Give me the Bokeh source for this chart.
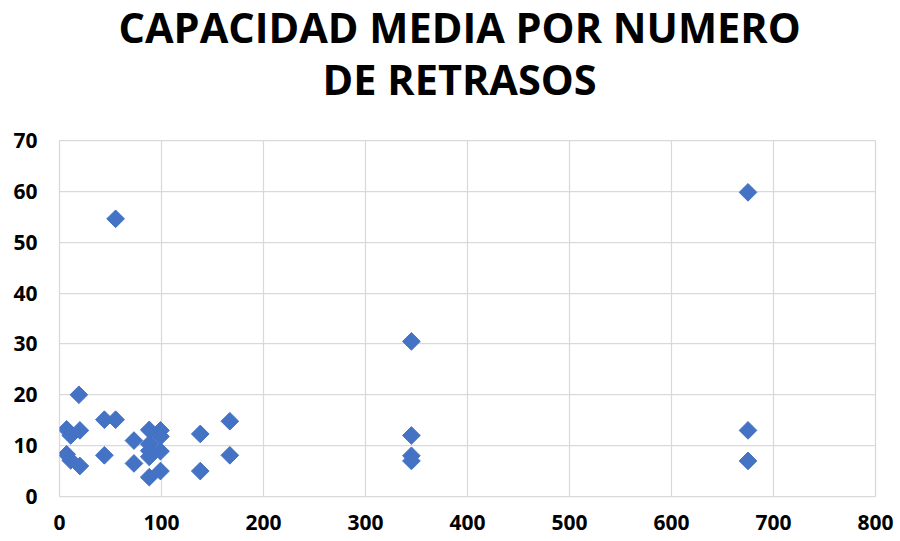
from bokeh.plotting import figure
from bokeh.models import ColumnDataSource, Range1d, FixedTicker, Title
from bokeh.embed import file_html
from bokeh.resources import INLINE
import numpy as np

# Data
retrasos = [7, 11, 20, 19, 7, 11, 20, 44, 55, 44, 55, 73, 73, 88, 99, 99, 88, 88, 88, 99, 88, 99,
            138, 138, 167, 167, 345, 345, 345, 345, 675, 675, 675]
capacidad = [13.2, 12.0, 13.0, 20.0, 8.3, 7.1, 6.0, 15.1, 15.1, 8.1, 54.6, 11.0, 6.5, 13.1, 13.0, 11.8,
             10.3, 9.0, 7.8, 8.9, 3.8, 5.0, 12.3, 5.0, 14.8, 8.1, 30.5, 12.0, 8.0, 7.0, 59.8, 13.0, 7.0]
x_ticks = [0, 100, 200, 300, 400, 500, 600, 700, 800]
y_ticks = [0, 10, 20, 30, 40, 50, 60, 70]
title_lines = ["CAPACIDAD MEDIA POR NUMERO", "DE RETRASOS"]

src = ColumnDataSource(dict(x=retrasos, y=capacidad))

p = figure(width=900, height=541, output_backend="svg", toolbar_location=None,
           x_range=Range1d(0, 800), y_range=Range1d(0, 70),
           min_border_left=59, min_border_right=25, min_border_top=140, min_border_bottom=45)

t2 = Title(text=title_lines[1], align="left", offset=263, standoff=68,
           text_font="Open Sans", text_font_style="bold", text_font_size="41.5px",
           text_color="#000000")
t1 = Title(text=title_lines[0], align="left", offset=59, standoff=-81,
           text_font="Open Sans", text_font_style="bold", text_font_size="41.5px",
           text_color="#000000")
p.add_layout(t2, "above")
p.add_layout(t1, "above")

p.scatter("x", "y", source=src, marker="square", angle=np.pi / 4, size=12.5,
          fill_color="#4472C4", line_color="#4472C4")

for ax in (p.xaxis, p.yaxis):
    ax.axis_line_color = None
    ax.major_tick_line_color = None
    ax.minor_tick_line_color = None
    ax.major_tick_in = 0
    ax.major_tick_out = 0
    ax.major_label_text_font = "Open Sans"
    ax.major_label_text_font_style = "bold"
    ax.major_label_text_font_size = "21px"
    ax.major_label_text_color = "#000000"

p.xaxis.ticker = FixedTicker(ticks=x_ticks)
p.yaxis.ticker = FixedTicker(ticks=y_ticks)
p.xaxis.major_label_standoff = 18
p.yaxis.major_label_standoff = 22

p.xgrid.ticker = FixedTicker(ticks=x_ticks)
p.ygrid.ticker = FixedTicker(ticks=y_ticks)
p.grid.grid_line_color = "#D9D9D9"
p.grid.grid_line_width = 1.25
p.outline_line_color = "#D9D9D9"
p.outline_line_width = 1.25
p.background_fill_color = "white"
p.border_fill_color = "white"

open("out.html", "w").write(file_html(p, INLINE))
